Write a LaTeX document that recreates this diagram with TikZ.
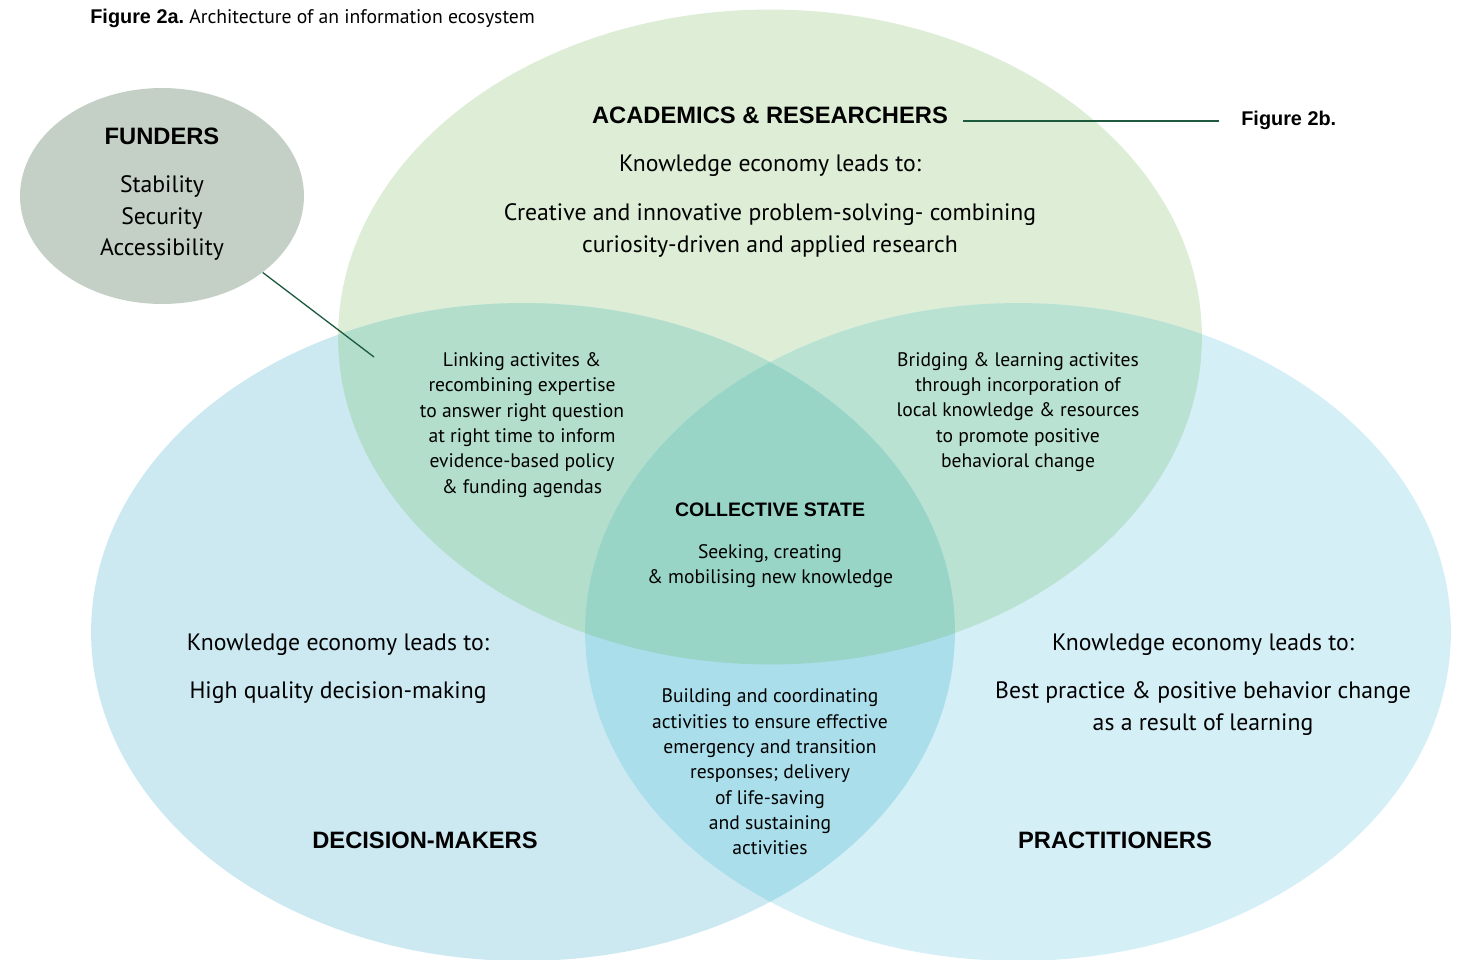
\documentclass[tikz,border=0pt]{standalone}
\usepackage{fontspec}
\setmainfont{PT Sans}
\newfontfamily\headfont{Liberation Sans}
\usepackage{xcolor}
\usepackage{tikz}
\usetikzlibrary{shapes}
\usetikzlibrary{calc}

\definecolor{acadgreen}{HTML}{DDEDD6}
\definecolor{dmblue}{HTML}{CCE9F1}
\definecolor{prblue}{HTML}{D5EFF6}
\definecolor{tlmix}{HTML}{B2DECB}
\definecolor{trmix}{HTML}{BAE2D2}
\definecolor{lrmix}{HTML}{A9DEEA}
\definecolor{coremix}{HTML}{98D5C6}
\definecolor{fundgray}{HTML}{C4D0C6}
\definecolor{leadgreen}{HTML}{1E5B3E}

\tikzset{
    heading/.style={font=\headfont\bfseries\fontsize{13.5}{16}\selectfont, inner sep=0pt},
    bigtext/.style={font=\fontsize{13.5}{18.2}\selectfont, align=center, inner sep=0pt},
    smalltext/.style={font=\fontsize{11.15}{14.4}\selectfont, align=center, inner sep=0pt},
    leader/.style={leadgreen, line width=0.75pt},
}

\begin{document}
\begin{tikzpicture}[x=0.02cm, y=-0.02cm]
                \useasboundingbox (0,0) rectangle (1461,960);

                % the three circles
                \fill[acadgreen] (770,337) ellipse [x radius=8.64cm, y radius=6.55cm];
                \fill[dmblue] (523,632) ellipse [x radius=8.64cm, y radius=6.58cm];
                \fill[prblue] (1018,632) ellipse [x radius=8.66cm, y radius=6.58cm];
                % overlaps
                \begin{scope}
                    \clip (770,337) ellipse [x radius=8.64cm, y radius=6.55cm];
                    \fill[tlmix] (523,632) ellipse [x radius=8.64cm, y radius=6.58cm];
                    \fill[trmix] (1018,632) ellipse [x radius=8.66cm, y radius=6.58cm];
                \end{scope}
                \begin{scope}
                    \clip (523,632) ellipse [x radius=8.64cm, y radius=6.58cm];
                    \fill[lrmix] (1018,632) ellipse [x radius=8.66cm, y radius=6.58cm];
                \end{scope}
                \begin{scope}
                    \clip (770,337) ellipse [x radius=8.64cm, y radius=6.55cm];
                    \clip (523,632) ellipse [x radius=8.64cm, y radius=6.58cm];
                    \fill[coremix] (1018,632) ellipse [x radius=8.66cm, y radius=6.58cm];
                \end{scope}

                % title
                \node[anchor=west, inner sep=0pt, font=\fontsize{11.2}{14}\selectfont] (title) at (90,18)
                    {{\headfont\bfseries\fontsize{11.3}{14}\selectfont Figure 2a.}\hspace{-1pt} Architecture of an information ecosystem};

                % funders
                \node[ellipse, fill=fundgray, minimum width=5.68cm, minimum height=4.32cm, inner sep=0pt] (funders) at (162,196) {};
                \node[heading] (fundhead) at (162,136) {FUNDERS};
                \node[bigtext] (fundtext) at (162,218) {Stability\\Security\\Accessibility};
                \coordinate (fundtip) at (374,357);
                \draw[leader] (funders) -- (fundtip);

                % academics
                \node[heading] (acad) at (770,115) {ACADEMICS \& RESEARCHERS};
                \node[heading, font=\headfont\bfseries\fontsize{11.3}{14}\selectfont, anchor=west] (fig2b) at (1241,120) {Figure 2b.};
                \draw[leader] ($(acad.east)+(15,6)$) -- ($(acad.east -| fig2b.west)+(-22,6)$);
                \node[bigtext] (acadlead) at (770,166) {Knowledge economy leads to:};
                \node[bigtext] (acadtext) at (770,230) {Creative and innovative problem-solving- combining\\curiosity-driven and applied research};

                % overlaps text
                \node[smalltext] (linking) at (522,425) {Linking activites \&\\recombining expertise\\to answer right question\\at right time to inform\\evidence-based policy\\\& funding agendas};
                \node[smalltext] (bridging) at (1018,412) {Bridging \& learning activites\\through incorporation of\\local knowledge \& resources\\to promote positive\\behavioral change};
                \node[heading, font=\headfont\bfseries\fontsize{11.1}{14}\selectfont] (collhead) at (770,510) {COLLECTIVE STATE};
                \node[smalltext] (colltext) at (770,566) {Seeking, creating\\\& mobilising new knowledge};
                \node[smalltext] (building) at (770,772) {Building and coordinating\\activities to ensure effective\\emergency and transition\\responses; delivery\\of life-saving\\and sustaining\\activities};

                % decision-makers
                \node[bigtext] (dmlead) at (338,645) {Knowledge economy leads to:};
                \node[bigtext] (dmtext) at (338,693) {High quality decision-making};
                \node[heading] (dmhead) at (425,840) {DECISION-MAKERS};

                % practitioners
                \node[bigtext] (prlead) at (1203,645) {Knowledge economy leads to:};
                \node[bigtext] (prtext) at (1203,709) {Best practice \& positive behavior change\\as a result of learning};
                \node[heading] (prhead) at (1115,840) {PRACTITIONERS};

\end{tikzpicture}
\end{document}
